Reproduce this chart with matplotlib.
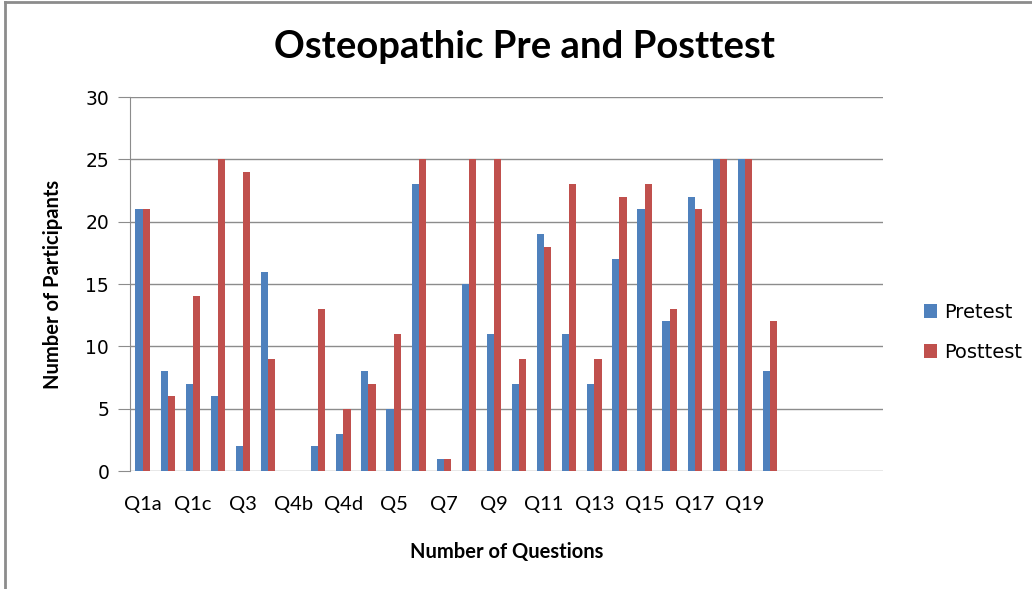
import matplotlib
matplotlib.use("Agg")
import matplotlib.pyplot as plt
from matplotlib.lines import Line2D
import numpy as np

# Data
categories = ["Q1a", "Q1b", "Q1c", "Q2", "Q3", "Q4a", "Q4b", "Q4c", "Q4d", "Q4e",
              "Q5", "Q6", "Q7", "Q8", "Q9", "Q10", "Q11", "Q12", "Q13", "Q14",
              "Q15", "Q16", "Q17", "Q18", "Q19", "Q20"]
pretest = [21, 8, 7, 6, 2, 16, 0, 2, 3, 8,
           5, 23, 1, 15, 11, 7, 19, 11, 7, 17,
           21, 12, 22, 25, 25, 8]
posttest = [21, 6, 14, 25, 24, 9, 0, 13, 5, 7,
            11, 25, 1, 25, 25, 9, 18, 23, 9, 22,
            23, 13, 21, 25, 25, 12]
n_slots = 30  # category axis runs past the last question (empty slots)

C_PRE = "#4F81BD"
C_POST = "#C0504D"
C_GRID = "#8C8C8C"

fig = plt.figure(figsize=(10.32, 5.89), dpi=100)
ax = fig.add_axes([0.126, 0.2003, 0.7296, 0.635])

x = np.arange(len(categories))
w = 0.285
ax.bar(x - w / 2, pretest, width=w, color=C_PRE, label="Pretest", zorder=3)
ax.bar(x + w / 2, posttest, width=w, color=C_POST, label="Posttest", zorder=3)

ax.set_xlim(-0.5, n_slots - 0.5)
ax.set_ylim(0, 30)
ax.set_yticks(range(0, 31, 5))
ax.yaxis.grid(True, color=C_GRID, linewidth=1.0, zorder=0)
ax.tick_params(axis="y", length=9, color=C_GRID, labelsize=13.5, pad=6)
for lbl in ax.get_yticklabels():
    lbl.set_family("DejaVu Sans")

ticks = x[::2]
ax.set_xticks(ticks)
ax.set_xticklabels([categories[i] for i in ticks], family="Lato", fontsize=14.5)
ax.tick_params(axis="x", length=0, pad=18)

for side in ["top", "right", "bottom"]:
    ax.spines[side].set_visible(False)
ax.spines["left"].set_color(C_GRID)

ax.set_xlabel("Number of Questions", family="Lato", fontweight="bold",
              fontsize=14.5, labelpad=21)
ax.set_ylabel("Number of Participants", family="Lato", fontweight="bold",
              fontsize=14.5, labelpad=16)

fig.text(0.508, 0.92, "Osteopathic Pre and Posttest", ha="center", va="center",
         family="Lato", fontweight="bold", fontsize=27.5)

leg = ax.legend(loc="center left", bbox_to_anchor=(0.878, 0.436),
                bbox_transform=fig.transFigure, frameon=False,
                handlelength=0.7, handleheight=0.7, handletextpad=0.35,
                labelspacing=1.1, prop={"family": "DejaVu Sans", "size": 14})

# outer chart frame (top and left edges visible in the reference)
fig.add_artist(Line2D([0.005, 1.0], [0.996, 0.996], transform=fig.transFigure,
                      color="#8C8C8C", linewidth=2))
fig.add_artist(Line2D([0.005, 0.005], [0.0, 0.996], transform=fig.transFigure,
                      color="#8C8C8C", linewidth=2))

fig.savefig("out.png", dpi=100)
